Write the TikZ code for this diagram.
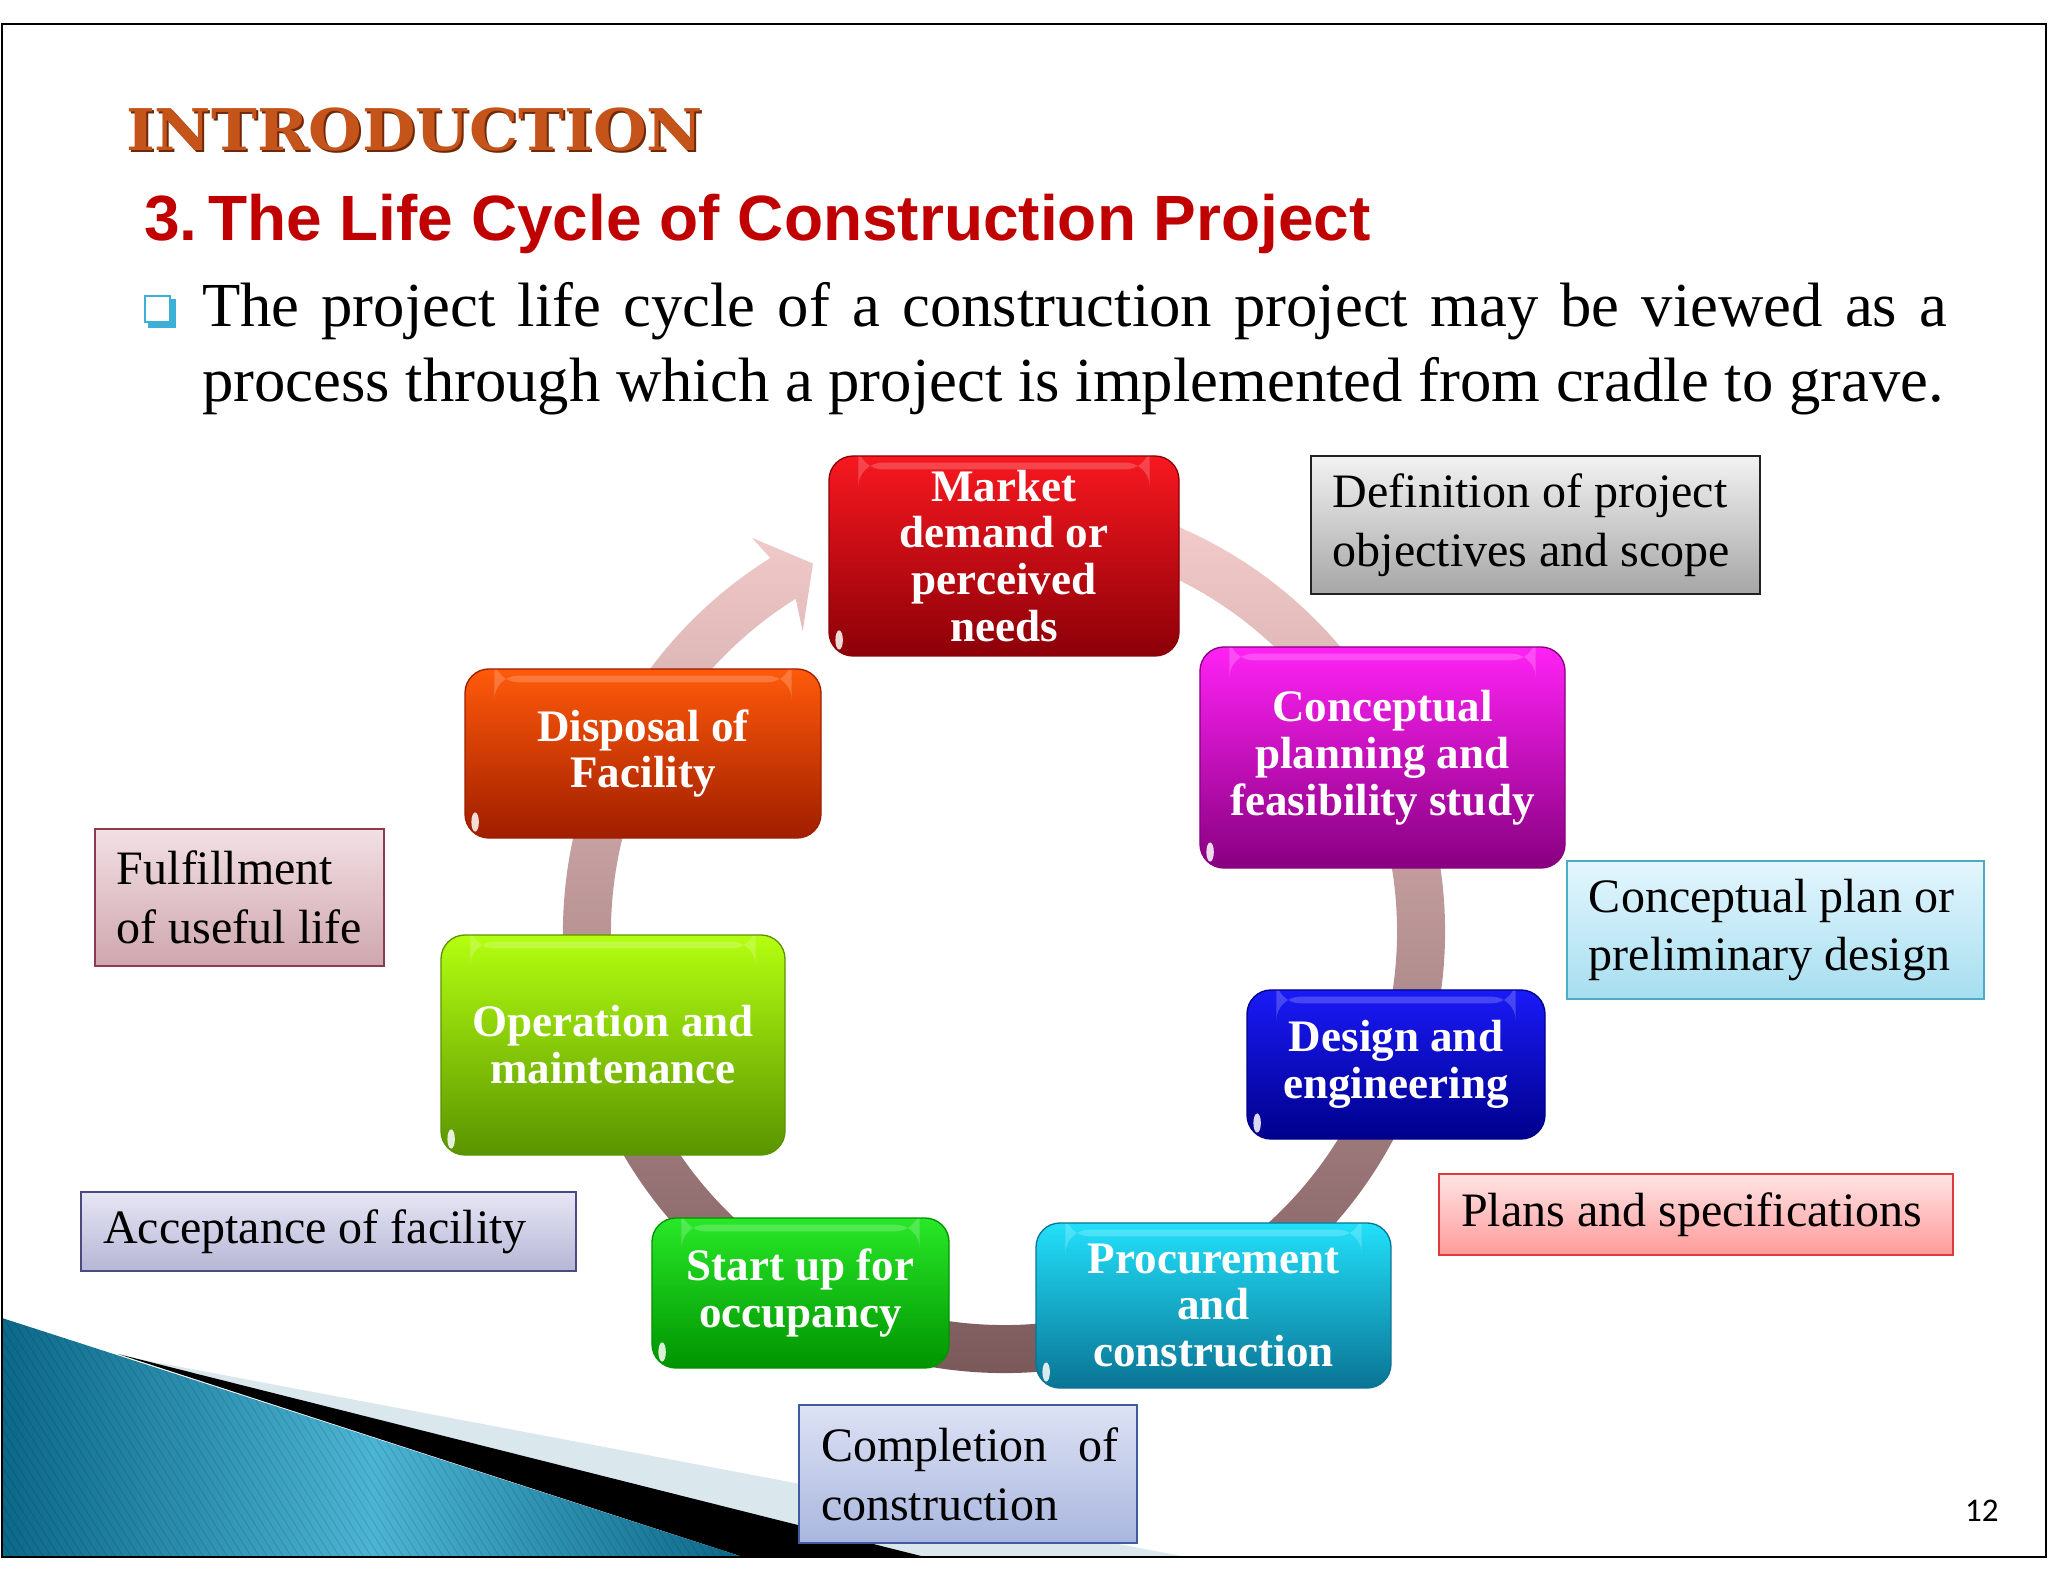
\documentclass[tikz,border=0pt]{standalone}
\usepackage{fontspec}
\setmainfont{Liberation Serif}
\newfontfamily\headfont{Liberation Sans}
\newfontfamily\slabfont{DejaVu Serif}
\newfontfamily\numfont{Carlito}
\usetikzlibrary{calc}

% phase box colours (top / bottom of the gloss)
\definecolor{mktTop}{RGB}{248,24,32}   \definecolor{mktBot}{RGB}{140,0,8}
\definecolor{cptTop}{RGB}{255,34,245}  \definecolor{cptBot}{RGB}{136,0,128}
\definecolor{dsgTop}{RGB}{26,26,248}   \definecolor{dsgBot}{RGB}{0,0,140}
\definecolor{prcTop}{RGB}{34,224,250}  \definecolor{prcBot}{RGB}{10,116,148}
\definecolor{strTop}{RGB}{40,232,40}   \definecolor{strBot}{RGB}{0,148,0}
\definecolor{opsTop}{RGB}{180,255,16}  \definecolor{opsBot}{RGB}{90,148,0}
\definecolor{dspTop}{RGB}{255,90,10}   \definecolor{dspBot}{RGB}{160,30,0}
% ring
\definecolor{ringTop}{RGB}{246,206,206}
\definecolor{ringMid}{RGB}{200,152,152}
\definecolor{ringBot}{RGB}{118,84,86}
% note boxes
\definecolor{defTop}{RGB}{242,242,242} \definecolor{defBot}{RGB}{166,166,166} \definecolor{defLine}{RGB}{34,34,34}
\definecolor{cplTop}{RGB}{228,246,253} \definecolor{cplBot}{RGB}{166,222,240} \definecolor{cplLine}{RGB}{75,172,198}
\definecolor{plnTop}{RGB}{255,228,228} \definecolor{plnBot}{RGB}{255,154,154} \definecolor{plnLine}{RGB}{224,58,58}
\definecolor{fulTop}{RGB}{242,224,228} \definecolor{fulBot}{RGB}{207,166,174} \definecolor{fulLine}{RGB}{140,58,78}
\definecolor{accTop}{RGB}{230,230,244} \definecolor{accBot}{RGB}{182,182,214} \definecolor{accLine}{RGB}{74,74,128}
\definecolor{cmpTop}{RGB}{221,226,244} \definecolor{cmpBot}{RGB}{169,182,222} \definecolor{cmpLine}{RGB}{62,92,158}
% slide
\definecolor{introCol}{RGB}{196,84,26}  \definecolor{introShd}{RGB}{112,40,8}
\definecolor{titleRed}{RGB}{192,0,0}
\definecolor{bulletCol}{RGB}{60,176,214}
\definecolor{wedgeDark}{RGB}{12,104,136} \definecolor{wedgeLight}{RGB}{76,180,212}
\definecolor{bandLight}{RGB}{218,232,238}

\newcommand{\phasesize}{\fontsize{16.9pt}{17.6pt}\selectfont\bfseries}
\newcommand{\notesize}{\fontsize{18pt}{22.1pt}\selectfont}
\newcommand{\tightspaces}{\spaceskip=0pt\relax\xspaceskip=0pt\relax}

\tikzset{every picture/.style={line width=0.75pt}}
\tikzset{
  phase/.style 2 args={top color=#1, bottom color=#2, draw=#2, line width=0.5pt,
    rounded corners=9pt, inner sep=0pt, align=center, text=white, font=\phasesize,
    path picture={
      \fill[white,opacity=.2] ([xshift=11pt,yshift=-2.5pt]path picture bounding box.north west)
        rectangle ([xshift=-11pt,yshift=-5pt]path picture bounding box.north east);
      \fill[white,opacity=.85,rotate=-35] ([xshift=3.8pt,yshift=6pt]path picture bounding box.south west)
        ellipse (1.4pt and 3.6pt);
    }},
  note/.style n args={3}{top color=#1, bottom color=#2, draw=#3, line width=0.75pt,
    rectangle, inner xsep=8.25pt, inner ysep=0pt, align=left, font=\notesize,
    execute at begin node=\tightspaces},
}

\begin{document}
\begin{tikzpicture}[x=0.375pt,y=-0.375pt]
\useasboundingbox (0,0) rectangle (2048,1582);

%% bottom left decoration
\fill[bandLight] (128,1357) -- (1187,1557) -- (900,1557) -- cycle;
\fill[black] (118,1354) -- (925,1557) -- (743,1557) -- cycle;
\begin{scope}
  \clip (2,1318) -- (743,1557) -- (2,1557) -- cycle;
  \shade[left color=wedgeDark, right color=wedgeDark, middle color=wedgeLight] (2,1318) rectangle (743,1557);
  \foreach \i in {-200,-192,...,760}
    \draw[black,opacity=.12,line width=0.3pt] (\i,1300) -- (\i+170,1567);
\end{scope}

%% header
\node[anchor=base west, inner sep=0pt, text=introShd] at (127,153) {\resizebox{216.4pt}{16pt}{\slabfont\bfseries INTRODUCTION}};
\node[anchor=base west, inner sep=0pt, text=introCol] (intro) at (125,151) {\resizebox{216.4pt}{16pt}{\slabfont\bfseries INTRODUCTION}};
\node[anchor=base west, inner sep=0pt, text=titleRed, font=\headfont\bfseries\fontsize{24pt}{28pt}\selectfont] (title) at (143,241) {3.\,The Life Cycle of Construction Project};

% bullet
\fill[bulletCol] (148,299) rectangle (176,328);
\filldraw[fill=white, draw=bulletCol, line width=1pt] (145,296) rectangle (170,322);
\node[anchor=base west, inner sep=0pt, font=\fontsize{23.5pt}{28.5pt}\selectfont] (line1) at (201,327)
  {\makebox[654.4pt][s]{The project life cycle of a construction project may be viewed as a}};
\node[anchor=base west, inner sep=0pt, font=\fontsize{23.5pt}{28.5pt}\selectfont] (line2) at (201,402)
  {process through which a project is implemented from cradle to grave.};

%% the cycle ring with its arrow
\coordinate (ctr) at (1004,932);
\shade[top color=ringTop, middle color=ringMid, bottom color=ringBot]
  ([shift={(-80:441)}]ctr) arc[start angle=-80, end angle=238, radius=441]
  -- ([shift={(237.4:468)}]ctr) -- ([shift={(242.6:415)}]ctr) -- ([shift={(236.2:362)}]ctr)
  -- ([shift={(238:393)}]ctr) arc[start angle=238, end angle=-80, radius=393] -- cycle;

%% phases
\node[phase={mktTop}{mktBot}, minimum width=131.25pt, minimum height=75pt] (market) at (1004,556) {Market\\demand or\\perceived\\needs};
\node[phase={cptTop}{cptBot}, minimum width=136.9pt, minimum height=82.9pt] (concept) at (1382.5,757.5) {Conceptual\\planning and\\feasibility study};
\node[phase={dsgTop}{dsgBot}, minimum width=111.75pt, minimum height=55.9pt] (design) at (1396,1064.5) {Design and\\engineering};
\node[phase={prcTop}{prcBot}, minimum width=133.1pt, minimum height=61.9pt] (procure) at (1213.5,1305.5) {Procurement\\and\\construction};
\node[phase={strTop}{strBot}, minimum width=111.4pt, minimum height=56.25pt] (startup) at (800.5,1293) {Start up for\\occupancy};
\node[phase={opsTop}{opsBot}, minimum width=129pt, minimum height=82.5pt] (operate) at (613,1045) {Operation and\\maintenance};
\node[phase={dspTop}{dspBot}, minimum width=133.5pt, minimum height=63.4pt] (dispose) at (643,753.5) {Disposal of\\Facility};

%% notes
\node[note={defTop}{defBot}{defLine}, text width=151.9pt, minimum height=51.75pt] (defn) at (1535.5,525) {\mbox{Definition of project}\\\mbox{objectives and scope}};
\node[note={cplTop}{cplBot}{cplLine}, text width=139.9pt, minimum height=51.75pt] (prelim) at (1775.5,930) {\mbox{Conceptual plan or}\\\mbox{preliminary design}};
\node[note={plnTop}{plnBot}{plnLine}, text width=176.25pt, minimum height=30.4pt] (plans) at (1696,1214.5) {\mbox{Plans and specifications}};
\node[note={fulTop}{fulBot}{fulLine}, text width=91.9pt, minimum height=51.4pt] (useful) at (239.5,897.5) {\mbox{Fulfillment}\\\mbox{of useful life}};
\node[note={accTop}{accBot}{accLine}, text width=169.1pt, minimum height=29.6pt] (accept) at (328.5,1231.5) {\mbox{Acceptance of facility}};
\node[note={cmpTop}{cmpBot}{cmpLine}, text width=110.25pt, minimum height=51.75pt] (complete) at (968,1474) {\makebox[111.4pt][s]{Completion of}\\construction};

%% page number and frame
\node[anchor=base west, inner sep=0pt, font=\numfont\fontsize{12.4pt}{14pt}\selectfont] (pgnum) at (1964,1521) {12};
\draw[line width=1pt] (2,24) rectangle (2046,1557);
\end{tikzpicture}
\end{document}
